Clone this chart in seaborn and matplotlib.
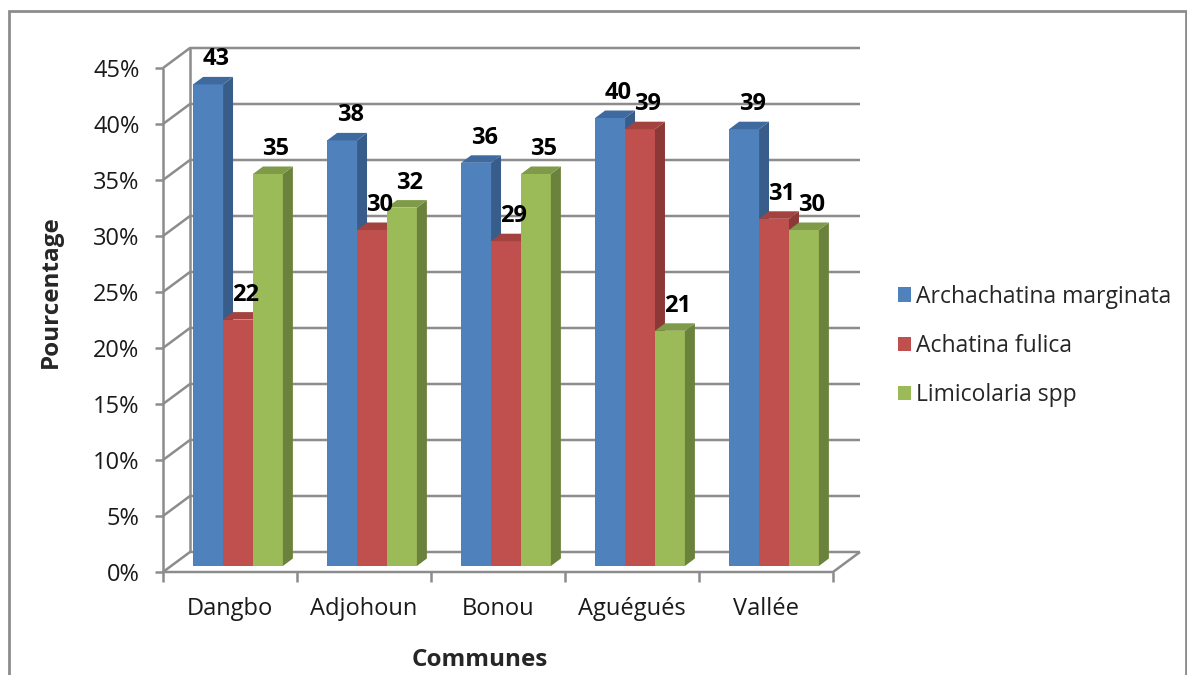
import matplotlib
matplotlib.use("Agg")
from matplotlib import pyplot as plt
from matplotlib.patches import Polygon, Rectangle
import pandas as pd
import seaborn as sns

communes = ["Dangbo", "Adjohoun", "Bonou", "Aguégués", "Vallée"]
especes = ["Archachatina marginata", "Achatina fulica", "Limicolaria spp"]
archachatina = [43, 38, 36, 40, 39]
achatina = [22, 30, 29, 39, 31]
limicolaria = [35, 32, 35, 21, 30]
yticks = [0, 5, 10, 15, 20, 25, 30, 35, 40, 45]

front_colors = ["#4F81BD", "#C0504D", "#9BBB59"]
top_colors = ["#3F6AA0", "#A3423F", "#7F9A48"]
side_colors = ["#385D8A", "#8C3836", "#6B823C"]
grid_color = "#8C8C8C"

rows = []
for sp, vals in zip(especes, [archachatina, achatina, limicolaria]):
    for c, v in zip(communes, vals):
        rows.append({"Communes": c, "Espece": sp, "Pourcentage": v / 100})
df = pd.DataFrame(rows)

sns.set_style("white")
plt.rcParams["font.family"] = ["Open Sans", "DejaVu Sans"]
FS = 17

W, H = 1187, 675
fig = plt.figure(figsize=(W / 100, H / 100), dpi=100)
# front plane of the plot box, in pixels
x0, x1, y0, y1 = 163, 833, 572, 68
ax = fig.add_axes([x0 / W, 1 - y0 / H, (x1 - x0) / W, (y0 - y1) / H])

sns.barplot(data=df, x="Communes", y="Pourcentage", hue="Espece",
            order=communes, hue_order=especes, palette=front_colors,
            saturation=1, width=0.67, linewidth=0, ax=ax, legend=False,
            errorbar=None)

ax.set_xlim(-0.5, len(communes) - 0.5)
ax.set_ylim(0, 0.45)
ux = (len(communes)) / (x1 - x0)   # data units per pixel
uy = 0.45 / (y0 - y1)

# perspective depth of the walls and bars
DX, DY = 27 * ux, 20 * uy
ox, oy = 8 * ux, 6 * uy
bx, by = 10 * ux, 7.5 * uy

# back wall, side wall and floor lines
xl, xr = -0.5, len(communes) - 0.5
lk = dict(color=grid_color, lw=1.8, clip_on=False, zorder=1,
          solid_capstyle="butt")
for t in yticks:
    v = t / 100
    ax.plot([xl, xl + DX, xr + DX], [v, v + DY, v + DY], **lk)
ax.plot([xl, xl], [0, 0.45], **lk)
ax.plot([xl + DX, xl + DX], [DY, 0.45 + DY], **lk)
ax.plot([xl, xr, xr + DX], [0, 0, DY], **lk)

# turn flat bars into 3d columns; right-hand series sit in front
for i, cont in enumerate(ax.containers):
    z = 3 + i
    for bar in cont:
        bar.set_x(bar.get_x() + ox)
        bar.set_y(oy)
        bar.set_zorder(z)
        bar.set_clip_on(False)
        bx0 = bar.get_x()
        w = bar.get_width()
        h = bar.get_height()
        top = oy + h
        side = Polygon([(bx0 + w, oy), (bx0 + w + bx, oy + by),
                        (bx0 + w + bx, top + by), (bx0 + w, top)],
                       closed=True, fc=side_colors[i], ec="none",
                       clip_on=False, zorder=z)
        cap = Polygon([(bx0, top), (bx0 + w, top), (bx0 + w + bx, top + by),
                       (bx0 + bx, top + by)],
                      closed=True, fc=top_colors[i], ec="none",
                      clip_on=False, zorder=z)
        ax.add_patch(side)
        ax.add_patch(cap)
        ax.text(bx0 + w / 2 + 8 * ux, top + 25 * uy, f"{round(h * 100):d}",
                ha="center", va="center", fontsize=FS, fontweight="bold",
                color="black", zorder=10, clip_on=False)

for s in ax.spines.values():
    s.set_visible(False)

ax.set_yticks([t / 100 for t in yticks])
ax.set_yticklabels([f"{t}%" for t in yticks], fontsize=FS, color="#1a1a1a")
ax.tick_params(axis="y", length=6, width=1.8, color=grid_color, pad=11, left=True)
ax.set_xticks(range(len(communes)))
ax.set_xticklabels(communes, fontsize=FS, color="#1a1a1a")
ax.tick_params(axis="x", which="major", length=0, pad=18)
ax.set_xticks([k - 0.5 for k in range(len(communes) + 1)], minor=True)
ax.tick_params(axis="x", which="minor", length=7, width=1.8, color=grid_color,
               bottom=True)

ax.set_xlabel("Communes", fontsize=FS + 0.5, fontweight="bold", va="center")
ax.xaxis.set_label_coords((480 - x0) / (x1 - x0), (y0 - 660) / (y0 - y1))
ax.set_ylabel("Pourcentage", fontsize=FS + 0.5, fontweight="bold", va="center")
ax.yaxis.set_label_coords((51 - x0) / (x1 - x0), (y0 - 292) / (y0 - y1))

handles = [Rectangle((0, 0), 1, 1, fc=c, ec="none") for c in front_colors]
fig.legend(handles, especes, loc="center left",
           bbox_to_anchor=(877 / W, 1 - 346 / H), frameon=False,
           fontsize=16.5, handlelength=0.6, handleheight=0.6,
           handletextpad=0.2, labelspacing=1.1)

# outer chart border
fig.patches.append(Rectangle((9 / W, -0.05), (1186 - 9) / W, 1.05 - 11 / H,
                             transform=fig.transFigure, fill=False,
                             ec="#8C8C8C", lw=2))

fig.savefig("out.png", dpi=100)
